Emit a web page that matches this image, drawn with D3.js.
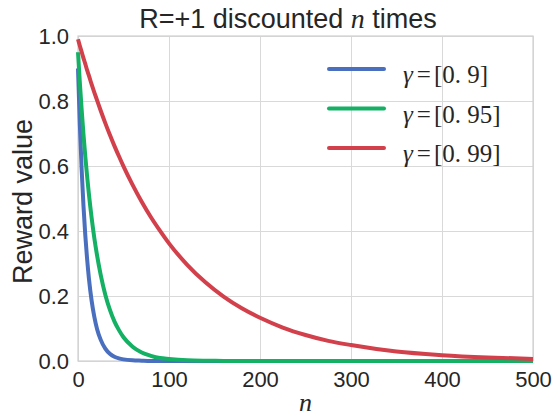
<!DOCTYPE html>
<html>
<head>
<meta charset="utf-8">
<script src="https://cdn.jsdelivr.net/npm/d3@7"></script>
<style>
  body { margin: 0; background: #fff; }
  svg { display: block; }
</style>
</head>
<body>
<svg width="555" height="416"></svg>
<script>
let steps = [0, 2, 4, 6, 8, 10, 12, 15, 18, 21, 25, 30, 35, 40, 45, 50, 60, 70, 80, 90,
  100, 120, 140, 160, 180, 200, 225, 250, 275, 300, 350, 400, 450, 500]

let gamma90 = [0.9, 0.729, 0.590, 0.478, 0.387, 0.314, 0.254, 0.185, 0.135, 0.098, 0.065,
  0.038, 0.022, 0.013, 0.008, 0.005, 0.002, 0.001, 0.0002, 0, 0, 0, 0, 0, 0, 0, 0, 0, 0, 0, 0, 0, 0, 0]
let gamma95 = [0.95, 0.857, 0.774, 0.698, 0.630, 0.569, 0.513, 0.440, 0.377, 0.324, 0.264,
  0.204, 0.158, 0.122, 0.095, 0.073, 0.044, 0.026, 0.016, 0.009, 0.006, 0.002, 0.0007,
  0.0003, 0.0001, 0, 0, 0, 0, 0, 0, 0, 0, 0]
let gamma99 = [0.99, 0.970, 0.951, 0.932, 0.914, 0.895, 0.878, 0.851, 0.826, 0.802, 0.770,
  0.732, 0.696, 0.662, 0.630, 0.599, 0.542, 0.490, 0.443, 0.401, 0.362, 0.296, 0.242,
  0.198, 0.162, 0.133, 0.103, 0.080, 0.062, 0.049, 0.029, 0.018, 0.011, 0.0065]

let seriesNames = ["0. 9", "0. 95", "0. 99"]
let seriesColors = ["#4a6fbf", "#14b064", "#d2404c"]
let xTicks = [0, 100, 200, 300, 400, 500]
let yTicks = [0.0, 0.2, 0.4, 0.6, 0.8, 1.0]

let margin = {top: 36, right: 22, bottom: 55, left: 78}
let width = 555 - margin.left - margin.right
let height = 416 - margin.top - margin.bottom

let sans = "'Liberation Sans', Arial, sans-serif"
let serif = "'Liberation Serif', 'DejaVu Serif', serif"

let svg = d3.select("svg")
let g = svg.append("g")
  .attr("transform", "translate(" + margin.left + "," + margin.top + ")")

let x = d3.scaleLinear().domain([0, 500]).range([0, width])
let y = d3.scaleLinear().domain([0, 1]).range([height, 0])

// grid + tick labels
g.append("g")
  .attr("transform", "translate(0," + height + ")")
  .call(d3.axisBottom(x).tickValues(xTicks).tickSize(-height).tickFormat(d => d))
  .call(ax => {
    ax.select(".domain").remove()
    ax.selectAll("line").attr("stroke", "#d9d9d9").attr("stroke-width", 1)
    ax.selectAll("text")
      .attr("dy", 0)
      .attr("y", 26)
      .style("font-family", sans)
      .style("font-size", "22px")
      .style("fill", "#262626")
  })

g.append("g")
  .call(d3.axisLeft(y).tickValues(yTicks).tickSize(-width).tickFormat(d3.format(".1f")))
  .call(ax => {
    ax.select(".domain").remove()
    ax.selectAll("line").attr("stroke", "#d9d9d9").attr("stroke-width", 1)
    ax.selectAll("text")
      .attr("x", -9)
      .attr("dy", "0.34em")
      .style("font-family", sans)
      .style("font-size", "22px")
      .style("fill", "#262626")
  })

// frame
g.append("rect")
  .attr("width", width)
  .attr("height", height)
  .attr("fill", "none")
  .attr("stroke", "#d0d0d0")
  .attr("stroke-width", 1.2)

let line = d3.line()
  .x((d, i) => x(steps[i]))
  .y(d => y(d))
  .curve(d3.curveMonotoneX)

let allSeries = [gamma90, gamma95, gamma99]

allSeries.forEach(function (vals, i) {
  g.append("path")
    .datum(vals)
    .attr("d", line)
    .attr("fill", "none")
    .attr("stroke", seriesColors[i])
    .attr("stroke-width", 4)
    .attr("stroke-linejoin", "round")
})

// legend
let legend = g.append("g")
seriesNames.forEach(function (name, i) {
  let ly = 33 + i * 39.5
  legend.append("line")
    .attr("x1", 251).attr("x2", 306)
    .attr("y1", ly).attr("y2", ly)
    .attr("stroke", seriesColors[i])
    .attr("stroke-width", 4)
    .attr("stroke-linecap", "round")

  let t = legend.append("text")
    .attr("x", 325)
    .attr("y", ly + 14)
    .style("font-family", serif)
    .style("font-size", "25px")
    .style("fill", "#262626")
  t.append("tspan").style("font-style", "italic").text("γ")
  t.append("tspan").attr("dx", 4).text("=")
  t.append("tspan").attr("dx", 3).text("[" + name + "]")
})

// title
let title = svg.append("text")
  .attr("x", 288)
  .attr("y", 28)
  .attr("text-anchor", "middle")
  .style("font-family", sans)
  .style("font-size", "27px")
  .style("fill", "#262626")
title.append("tspan").text("R=+1 discounted ")
title.append("tspan")
  .style("font-family", serif)
  .style("font-style", "italic")
  .style("font-size", "28px")
  .text("n")
title.append("tspan").text(" times")

// axis labels
svg.append("text")
  .attr("x", margin.left + width / 2)
  .attr("y", 411)
  .attr("text-anchor", "middle")
  .style("font-family", serif)
  .style("font-style", "italic")
  .style("font-size", "26px")
  .style("fill", "#262626")
  .text("n")

svg.append("text")
  .attr("transform", "translate(32," + (margin.top + height / 2 + 3) + ") rotate(-90)")
  .attr("text-anchor", "middle")
  .style("font-family", sans)
  .style("font-size", "27px")
  .style("fill", "#262626")
  .text("Reward value")
</script>
</body>
</html>
